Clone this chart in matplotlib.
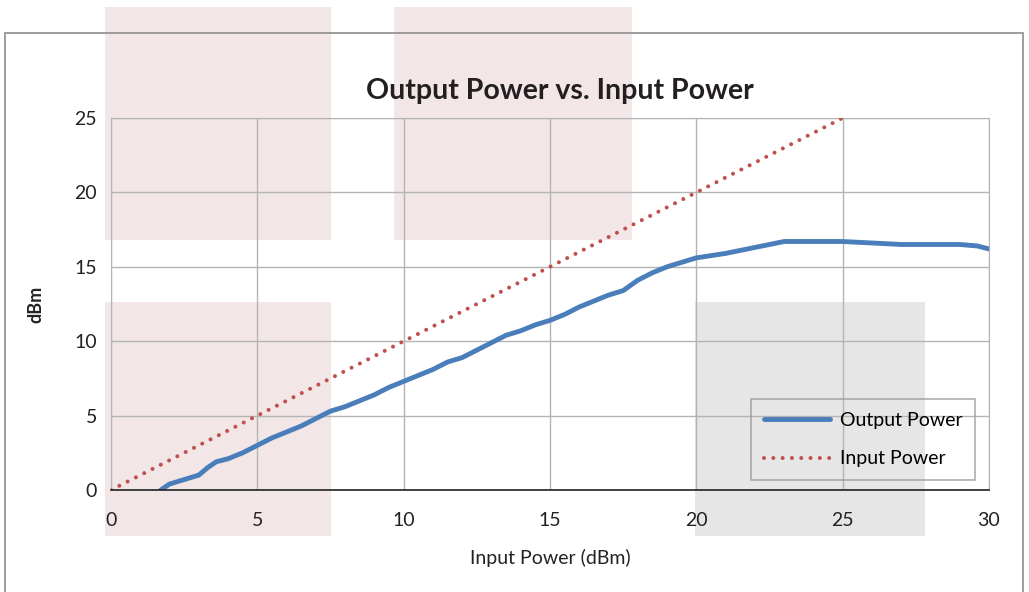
import matplotlib.pyplot as plt
from matplotlib.patches import Rectangle

# data
input_dbm = [1.7, 2.0, 2.5, 3.0, 3.3, 3.6, 4.0, 4.5, 5.0, 5.5, 6.0, 6.5, 7.0, 7.5, 8.0,
             8.5, 9.0, 9.5, 10.0, 10.5, 11.0, 11.5, 12.0, 12.5, 13.0, 13.5, 14.0, 14.5,
             15.0, 15.5, 16.0, 16.5, 17.0, 17.5, 18.0, 18.5, 19.0, 19.5, 20.0, 21.0,
             22.0, 23.0, 24.0, 25.0, 26.0, 27.0, 28.0, 29.0, 29.6, 30.0]
output_dbm = [0.0, 0.4, 0.7, 1.0, 1.5, 1.9, 2.1, 2.5, 3.0, 3.5, 3.9, 4.3, 4.8, 5.3, 5.6,
              6.0, 6.4, 6.9, 7.3, 7.7, 8.1, 8.6, 8.9, 9.4, 9.9, 10.4, 10.7, 11.1,
              11.4, 11.8, 12.3, 12.7, 13.1, 13.4, 14.1, 14.6, 15.0, 15.3, 15.6, 15.9,
              16.3, 16.7, 16.7, 16.7, 16.6, 16.5, 16.5, 16.5, 16.4, 16.2]
input_line_x = [0, 25]
input_line_y = [0, 25]

xticks = [0, 5, 10, 15, 20, 25, 30]
yticks = [0, 5, 10, 15, 20, 25]

plt.rcParams['font.family'] = ['Lato', 'DejaVu Sans']

fig = plt.figure(figsize=(10.29, 5.92), dpi=100)
W, H = 1029, 592

def px_rect(x0, y0, x1, y1, **kw):
    return Rectangle((x0 / W, 1 - y1 / H), (x1 - x0) / W, (y1 - y0) / H,
                     transform=fig.transFigure, **kw)

# background shaded blocks behind the chart
for (x0, y0, x1, y1, c) in [(105, 7, 331, 240, '#f2e6e6'),
                            (394, 7, 632, 240, '#f2e6e6'),
                            (105, 302, 331, 536, '#f2e6e6'),
                            (695, 302, 925, 536, '#e6e6e6')]:
    fig.patches.append(px_rect(x0, y0, x1, y1, facecolor=c, edgecolor='none', zorder=-2))

# outer chart border
fig.patches.append(px_rect(5, 33, 1023, 600, facecolor='none', edgecolor='#8c8c8c',
                           linewidth=1.2, zorder=-1))

ax = fig.add_axes([111 / W, 1 - 490 / H, (989 - 111) / W, (490 - 118) / H])
ax.set_zorder(1)
ax.set_facecolor('none')

ax.plot(input_dbm, output_dbm, color='#4a7ebb', linewidth=3.5, label='Output Power',
        solid_capstyle='round', solid_joinstyle='round', zorder=3)
ax.plot(input_line_x, input_line_y, color='#c0504d', linewidth=2.9,
        linestyle=(0, (0.01, 2.3)), dash_capstyle='round', label='Input Power', zorder=3)

ax.set_xlim(0, 30)
ax.set_ylim(0, 25)
ax.set_xticks(xticks)
ax.set_yticks(yticks)
ax.tick_params(length=0, labelsize=14, colors='#222222')
ax.tick_params(axis='x', pad=16)
ax.tick_params(axis='y', pad=10)
ax.grid(True, color='#b4b4b4', linewidth=1)
for side in ['top', 'right', 'left']:
    ax.spines[side].set_color('#b4b4b4')
ax.spines['bottom'].set_color('#222222')
ax.spines['bottom'].set_linewidth(1.2)
ax.spines['bottom'].set_zorder(4)

ax.set_title('Output Power vs. Input Power', fontsize=20.5, fontweight='bold',
             color='#231f20', pad=14, x=0.511)
ax.set_xlabel('Input Power (dBm)', fontsize=14, color='#222222', labelpad=14)
ax.set_ylabel('dBm', fontsize=13, fontweight='bold', color='#222222', labelpad=22)

leg = ax.legend(loc='lower right', bbox_to_anchor=(0.984, 0.027), borderaxespad=0,
                fontsize=14, frameon=True, fancybox=False, edgecolor='#999999',
                handlelength=3.4, labelspacing=1.1, borderpad=0.65, handletextpad=0.5)
leg.get_frame().set_facecolor('none')
leg.get_frame().set_linewidth(1.2)

fig.savefig('out.png', dpi=100)
